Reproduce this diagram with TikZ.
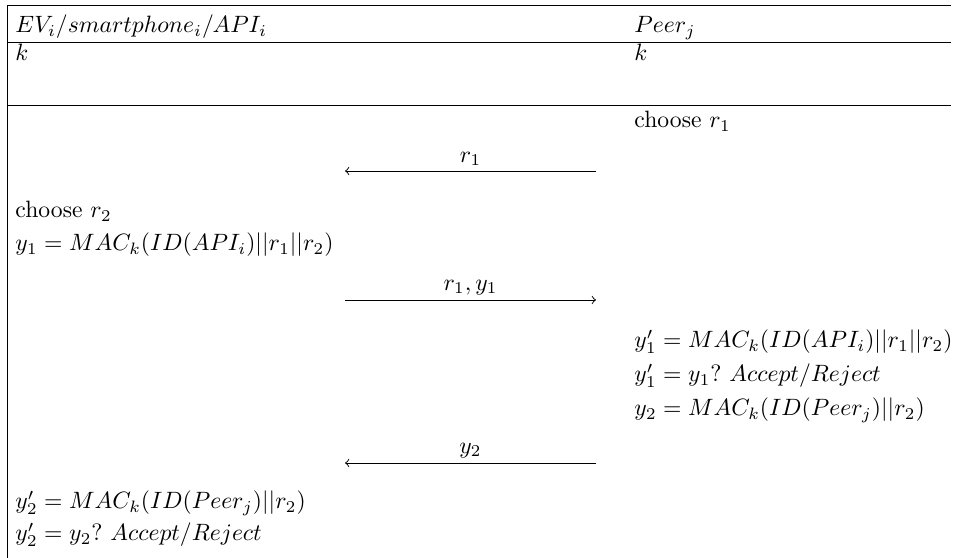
\documentclass[tikz,border=0pt]{standalone}
\usetikzlibrary{positioning,calc}
\tikzset{
  txt/.style = {anchor=base west, inner sep=0pt},
  msg/.style = {->, line width=0.4pt},
  lbl/.style = {above, inner sep=2pt},
}

\begin{document}
\begin{tikzpicture}[x=0.423pt, y=-0.423pt]
  \useasboundingbox (0,0) rectangle (956,558);

  % frame and header rules
  \draw (951,5) -- (7,5) -- (7,558);
  \draw (7,42) -- (951,42);
  \draw (7,105) -- (951,105);

  % parties and shared key
  \node[txt] (evname) at (15,33) {$EV_i/smartphone_i/API_i$};
  \node[txt] (peername) at (634,33) {$Peer_j$};
  \node[txt] (evkey) at ($(evname.base west)+(0,28)$) {$k$};
  \node[txt] (peerkey) at ($(peername.base west)+(0,28)$) {$k$};

  % round 1
  \node[txt] (pr1) at (634,128) {choose $r_1$};
  \coordinate (m1a) at (596,171);
  \coordinate (m1b) at (345,171);
  \draw[msg] (m1a) -- node[lbl] {$r_1$} (m1b);

  % round 2
  \node[txt] (er2) at (15,218) {choose $r_2$};
  \node[txt] (ey1) at ($(er2.base west)+(0,33)$) {$y_1=MAC_k(ID(API_i)||r_1||r_2)$};
  \coordinate (m2a) at (345,300);
  \coordinate (m2b) at (596,300);
  \draw[msg] (m2a) -- node[lbl] {$r_1,y_1$} (m2b);

  % peer checks y1, answers with y2
  \node[txt] (py1) at (634,348) {$y_1'=MAC_k(ID(API_i)||r_1||r_2)$};
  \node[txt] (pchk) at ($(py1.base west)+(0,34)$) {$y_1'=y_1?\ Accept/Reject$};
  \node[txt] (py2) at ($(pchk.base west)+(0,34)$) {$y_2=MAC_k(ID(Peer_j)||r_2)$};
  \coordinate (m3a) at (596,463);
  \coordinate (m3b) at (345,463);
  \draw[msg] (m3a) -- node[lbl] {$y_2$} (m3b);

  % EV side checks y2
  \node[txt] (ey2) at (15,509) {$y_2'=MAC_k(ID(Peer_j)||r_2)$};
  \node[txt] (echk) at ($(ey2.base west)+(0,32)$) {$y_2'=y_2?\ Accept/Reject$};
\end{tikzpicture}
\end{document}
